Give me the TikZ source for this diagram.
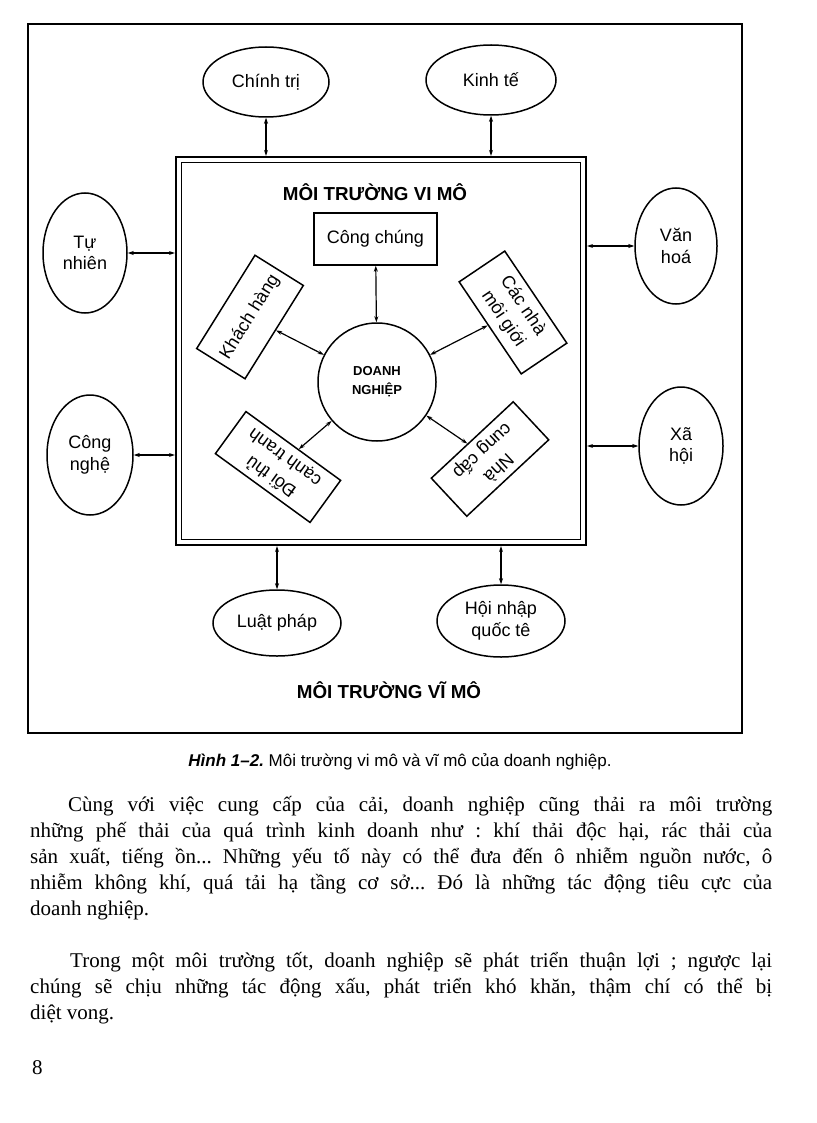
\documentclass[tikz,border=0pt]{standalone}
\usepackage{fontspec}
\setmainfont{Liberation Serif}
\newfontfamily\dsans{Liberation Sans}
\usetikzlibrary{shapes.geometric,arrows.meta}
\frenchspacing
\begin{document}
\begin{tikzpicture}[x=1pt,y=1pt,
  lab/.style={font=\dsans\fontsize{18}{21.5}\selectfont, align=center},
  ell/.style={ellipse, draw, line width=1.5pt, inner sep=0pt, lab},
  rbox/.style={draw, line width=1.5pt, inner sep=0pt, align=center, font=\dsans\fontsize{18}{23.5}\selectfont},
  ttl/.style={font=\dsans\bfseries\fontsize{18.8}{22}\selectfont},
  arr/.style={line width=1.2pt, {Stealth[length=6pt,width=4pt]}-{Stealth[length=6pt,width=4pt]}},
  body/.style={anchor=base west, inner sep=0pt, font=\fontsize{21}{26}\selectfont},
]
\useasboundingbox (0,0) rectangle (816,-1123);
% outer frame
\node[draw, line width=1.8pt, minimum width=714pt, minimum height=709pt, inner sep=0pt] (outer) at (385,-378.5) {};
% inner double frame
\node[draw, line width=2.2pt, minimum width=410pt, minimum height=388pt, inner sep=0pt] (vimo) at (381,-351) {};
\draw[line width=1.2pt] ([shift={(6.5,-6.5)}]vimo.north west) rectangle ([shift={(-6.5,6.5)}]vimo.south east);

\node[ttl] (title) at (375,-192) {MÔI TRƯỜNG VI MÔ};
\node[rbox, minimum width=123pt, minimum height=52pt] (cc) at (375.5,-239) {Công chúng};
\node[circle, draw, line width=1.5pt, minimum size=118pt, inner sep=0pt, align=center,
      font=\dsans\bfseries\fontsize{13}{19}\selectfont] (dn) at (377,-382) {DOANH\\NGHIỆP};
\node[rbox, minimum width=110pt, minimum height=57pt, rotate=58] (kh) at (250,-317) {Khách hàng};
\node[rbox, minimum width=111pt, minimum height=55pt, rotate=-56] (mg) at (513,-312.5) {Các nhà\\môi giới};
\node[rbox, minimum width=117pt, minimum height=52pt, rotate=144] (dt) at (278,-467) {Đối thủ\\cạnh tranh};
\node[rbox, minimum width=112pt, minimum height=52pt, rotate=223] (ncc) at (490,-459) {Nhà\\cung cấp};

\draw[arr] (cc) -- (dn);
\draw[arr] (kh) -- (dn);
\draw[arr] (mg) -- (dn);
\draw[arr] (dt) -- (dn);
\draw[arr] (ncc) -- (dn);

% macro environment
\node[ell, minimum width=126pt, minimum height=70pt] (ct) at (266,-82) {Chính trị};
\node[ell, minimum width=130pt, minimum height=70pt] (kt) at (491,-80) {Kinh tế};
\node[ell, minimum width=84pt, minimum height=120pt] (tn) at (85,-253) {Tự\\nhiên};
\node[ell, minimum width=86pt, minimum height=120pt] (cn) at (90,-455) {Công\\nghệ};
\node[ell, minimum width=82pt, minimum height=116pt] (vh) at (676,-246) {Văn\\hoá};
\node[ell, minimum width=84pt, minimum height=118pt] (xh) at (681,-446) {Xã\\hội};
\node[ell, minimum width=128pt, minimum height=66pt] (lp) at (277,-623) {Luật pháp};
\node[ell, minimum width=128pt, minimum height=72pt] (hn) at (501,-621) {Hội nhập\\quốc tê};

\draw[arr] (ct) -- (ct |- vimo.north);
\draw[arr] (kt) -- (kt |- vimo.north);
\draw[arr] (tn) -- (tn -| vimo.west);
\draw[arr] (cn) -- (cn -| vimo.west);
\draw[arr] (vh) -- (vh -| vimo.east);
\draw[arr] (xh) -- (xh -| vimo.east);
\draw[arr] (lp) -- (lp |- vimo.south);
\draw[arr] (hn) -- (hn |- vimo.south);

\node[ttl] (vimo2) at (389,-690) {MÔI TRƯỜNG VĨ MÔ};

\node[anchor=base, font=\dsans\fontsize{17}{20}\selectfont] (cap) at (400,-766)
  {\textbf{\textit{Hình 1–2.}} Môi trường vi mô và vĩ mô của doanh nghiệp.};

\node[body] (l1) at (68,-811) {\makebox[704pt][s]{Cùng với việc cung cấp của cải, doanh nghiệp cũng thải ra môi trường}};
\node[body] (l2) at (30,-837) {\makebox[742pt][s]{những phế thải của quá trình kinh doanh như : khí thải độc hại, rác thải của}};
\node[body] (l3) at (30,-863) {\makebox[742pt][s]{sản xuất, tiếng ồn... Những yếu tố này có thể đưa đến ô nhiễm nguồn nước, ô}};
\node[body] (l4) at (30,-889) {\makebox[742pt][s]{nhiễm không khí, quá tải hạ tầng cơ sở... Đó là những tác động tiêu cực của}};
\node[body] (l5) at (30,-915) {doanh nghiệp.};
\node[body] (l6) at (70,-967) {\makebox[702pt][s]{Trong một môi trường tốt, doanh nghiệp sẽ phát triển thuận lợi ; ngược lại}};
\node[body] (l7) at (30,-993) {\makebox[742pt][s]{chúng sẽ chịu những tác động xấu, phát triển khó khăn, thậm chí có thể bị}};
\node[body] (l8) at (30,-1019) {diệt vong.};
\node[body] (pg) at (32,-1074) {8};
\end{tikzpicture}
\end{document}
